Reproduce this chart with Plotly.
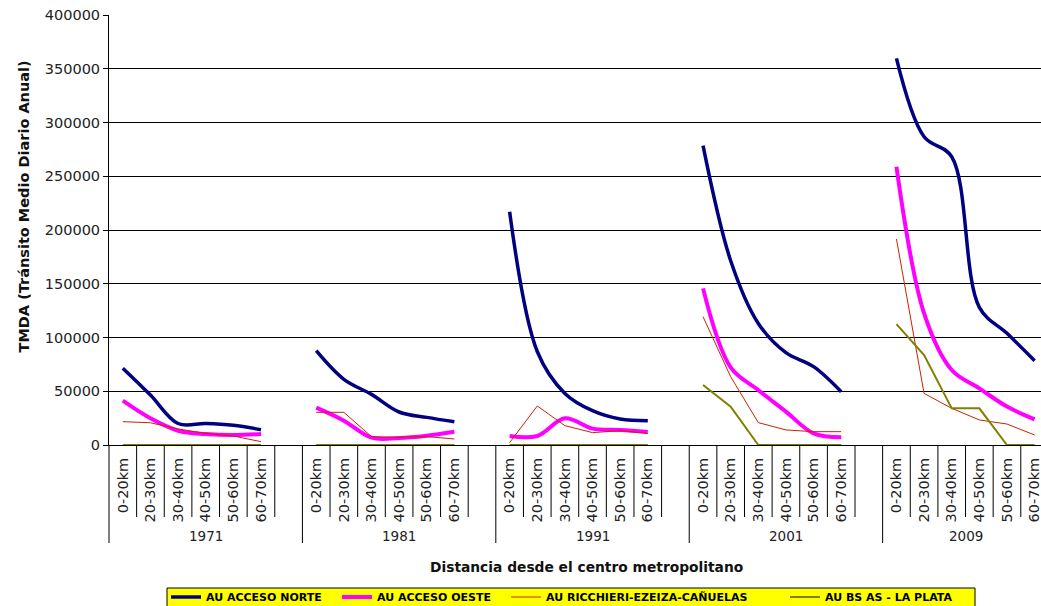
import plotly.graph_objects as go

# ---------------- data ----------------
years = ["1971", "1981", "1991", "2001", "2009"]
distances = ["0-20km", "20-30km", "30-40km", "40-50km", "50-60km", "60-70km"]

au_acceso_norte = [71500, 46500, 20000, 20000, 18300, 14200,
                   87700, 61100, 47100, 30700, 25700, 21700,
                   217000, 87000, 48000, 31900, 24200, 22600,
                   278400, 171400, 113100, 85900, 72900, 49600,
                   359600, 286700, 268100, 128000, 103900, 78400]
au_acceso_oeste = [41200, 24800, 13300, 10200, 9300, 10200,
                   34700, 22600, 6800, 6500, 8700, 12400,
                   8400, 8400, 24800, 15200, 14000, 12100,
                   145700, 72200, 51100, 31000, 10800, 7100,
                   258800, 122500, 69800, 52700, 35700, 23900]
au_ricchieri = [21700, 20700, 14900, 10800, 8400, 3100,
                30400, 30400, 7800, 7200, 7800, 5600,
                2200, 36300, 18000, 11500, 13300, 10800,
                119300, 63500, 20800, 14000, 12400, 12400,
                191600, 48000, 34100, 23300, 19500, 9300]
au_la_plata = [0, 0, 0, 0, 0, 0,
               0, 0, 0, 0, 0, 0,
               0, 0, 0, 0, 0, 0,
               55800, 35700, 0, 0, 0, 0,
               112500, 83700, 34100, 34100, 0, 0]

series_names = ["AU ACCESO NORTE", "AU ACCESO OESTE",
                "AU RICCHIERI-EZEIZA-CAÑUELAS", "AU BS AS - LA PLATA"]
series_values = [au_acceso_norte, au_acceso_oeste, au_ricchieri, au_la_plata]
series_colors = ["#000080", "#FF00FF", "#CC2200", "#808000"]
series_widths = [3.5, 4, 1, 2]
series_shapes = ["spline", "spline", "linear", "linear"]
legend_left_px = [171, 342, 511, 790]   # where each legend sample starts

# ---------------- category positions ----------------
n_d = len(distances)
step = n_d + 1  # one empty category between years


def pos(gi, di):
    return gi * step + di


last_pos = pos(len(years) - 1, n_d - 1)

# plot area geometry (pixels)
W, H = 1041, 606
L, T, B = 109, 15, 161
plot_w = W - L
plot_h = H - T - B
slot_px = 27.63


def py(px_below_axis):
    return -px_below_axis / plot_h


def px_x(px):
    return (px - L) / plot_w


fig = go.Figure()
legend_ids = ["legend", "legend2", "legend3", "legend4"]
for name, vals, col, w, shp, lid in zip(series_names, series_values, series_colors,
                                        series_widths, series_shapes, legend_ids):
    xs, ys = [], []
    for gi in range(len(years)):
        for di in range(n_d):
            xs.append(pos(gi, di))
            ys.append(vals[gi * n_d + di])
        xs.append(None)
        ys.append(None)
    fig.add_trace(go.Scatter(x=xs, y=ys, mode="lines", name=name, legend=lid,
                             line=dict(color=col, width=w, shape=shp),
                             connectgaps=False, hoverinfo="skip"))

tickvals = [pos(gi, di) for gi in range(len(years)) for di in range(n_d)]
ticktext = [distances[di] for gi in range(len(years)) for di in range(n_d)]

shapes = []
annotations = []
group_seps = [gi * step - 0.5 for gi in range(len(years))]
for b in range(0, last_pos + 1):
    xb = b - 0.5
    if xb in group_seps:
        continue
    shapes.append(dict(type="line", xref="x", yref="paper", x0=xb, x1=xb,
                       y0=0, y1=py(72), line=dict(color="black", width=1)))
for gi, xb in enumerate(group_seps):
    if gi == 0:
        shapes.append(dict(type="line", xref="paper", yref="paper", x0=0, x1=0,
                           y0=0, y1=py(98), line=dict(color="black", width=1)))
    else:
        shapes.append(dict(type="line", xref="x", yref="paper", x0=xb, x1=xb,
                           y0=0, y1=py(98), line=dict(color="black", width=1)))

# legend box
shapes.append(dict(type="rect", xref="paper", yref="paper",
                   x0=px_x(167), x1=px_x(975), y0=py(143), y1=py(170),
                   fillcolor="#FFFF00", line=dict(color="black", width=1)))

for gi, yr in enumerate(years):
    left = gi * step - 0.5
    right = min(gi * step + step - 0.5, last_pos + 0.5)
    annotations.append(dict(x=(left + right) / 2, y=py(91), xref="x", yref="paper",
                            text=yr, showarrow=False, xanchor="center", yanchor="middle",
                            font=dict(family="DejaVu Sans", size=13.5, color="#222")))

annotations.append(dict(x=px_x(586), y=py(122), xref="paper", yref="paper",
                        text="<b>Distancia desde el centro metropolitano</b>",
                        showarrow=False, xanchor="center", yanchor="middle",
                        font=dict(family="DejaVu Sans", size=13.8, color="#111")))
annotations.append(dict(x=px_x(23), y=(445 - 206.5) / plot_h,
                        xref="paper", yref="paper",
                        text="<b>TMDA (Tránsito Medio Diario Anual)</b>", textangle=-90,
                        showarrow=False, xanchor="center", yanchor="middle",
                        font=dict(family="DejaVu Sans", size=14.5, color="#111")))

layout_legends = {}
for lid, lx in zip(legend_ids, legend_left_px):
    layout_legends[lid] = dict(orientation="h", x=px_x(lx - 5), y=py(152),
                               xanchor="left", yanchor="middle",
                               bgcolor="rgba(0,0,0,0)", borderwidth=0,
                               font=dict(family="DejaVu Sans", size=11, color="black",
                                         weight="bold"),
                               itemwidth=30)

fig.update_layout(
    width=W, height=H,
    margin=dict(l=L, r=0, t=T, b=B, pad=0, autoexpand=False),
    paper_bgcolor="white", plot_bgcolor="white",
    showlegend=True,
    shapes=shapes,
    annotations=annotations,
    xaxis=dict(range=[-0.5, -0.5 + plot_w / slot_px], tickmode="array",
               tickvals=tickvals, ticktext=ticktext, tickangle=-90,
               ticks="outside", ticklen=6, tickcolor="rgba(0,0,0,0)",
               ticklabeloverflow="allow",
               showgrid=False, zeroline=False, showline=True, linecolor="black",
               linewidth=1,
               tickfont=dict(family="DejaVu Sans", size=14.5, color="#222")),
    yaxis=dict(range=[0, 400000], dtick=50000, tickformat="d",
               showgrid=True, gridcolor="black", gridwidth=1,
               zeroline=False, showline=True, linecolor="black", linewidth=1,
               ticks="outside", ticklen=5, tickcolor="black",
               tickfont=dict(family="DejaVu Sans", size=14.5, color="#222")),
    **layout_legends,
)

fig.write_html("out.html")
